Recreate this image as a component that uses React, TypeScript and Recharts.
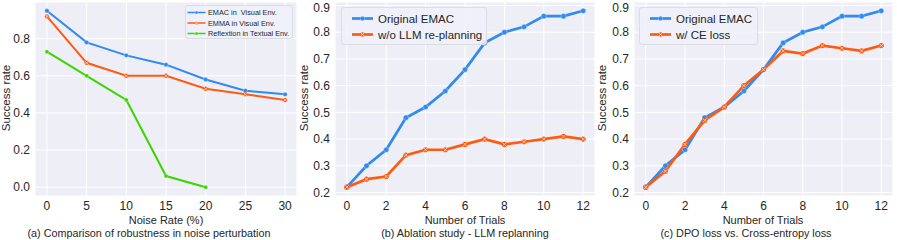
import { CartesianGrid, Line, LineChart, XAxis, YAxis } from "recharts";

const BLUE = "#2f8bf0";
const ORANGE = "#ff5b10";
const GREEN = "#3dd500";
const BG = "#eeeef7";
const INK = "#262626";
const FONT = '"Liberation Sans", Arial, Helvetica, sans-serif';

// (a) noise perturbation
const noiseRates = [0, 5, 10, 15, 20, 25, 30];
const emacNoise = [0.95, 0.78, 0.71, 0.66, 0.58, 0.52, 0.5];
const emmaNoise = [0.92, 0.67, 0.6, 0.6, 0.53, 0.5, 0.47];
const reflexionNoise = [0.73, 0.6, 0.47, 0.06, 0.0];

// (b) and (c) trials
const trials = [0, 1, 2, 3, 4, 5, 6, 7, 8, 9, 10, 11, 12];
const emacTrials = [0.22, 0.3, 0.36, 0.48, 0.52, 0.58, 0.66, 0.76, 0.8, 0.82, 0.86, 0.86, 0.88];
const noReplanTrials = [0.22, 0.25, 0.26, 0.34, 0.36, 0.36, 0.38, 0.4, 0.38, 0.39, 0.4, 0.41, 0.4];
const ceLossTrials = [0.22, 0.28, 0.38, 0.47, 0.52, 0.6, 0.66, 0.73, 0.72, 0.75, 0.74, 0.73, 0.75];

const noiseTicks = [0, 5, 10, 15, 20, 25, 30];
const noiseYTicks = [0, 0.2, 0.4, 0.6, 0.8];
const trialTicks = [0, 2, 4, 6, 8, 10, 12];
const trialYTicks = [0.2, 0.3, 0.4, 0.5, 0.6, 0.7, 0.8, 0.9];

const noiseData = noiseRates.map((x, i) => ({
  x,
  emac: emacNoise[i],
  emma: emmaNoise[i],
  reflexion: reflexionNoise[i] ?? null,
}));
const trialData = trials.map((x, i) => ({
  x,
  emac: emacTrials[i],
  noReplan: noReplanTrials[i],
  ce: ceLossTrials[i],
}));

type Marker = "o" | "x";

function drawMarker(kind: Marker, color: string, cx: number, cy: number, r: number, key?: any) {
  if (kind === "x") {
    const d = r * 0.7;
    return (
      <g key={key}>
        <circle cx={cx} cy={cy} r={r} fill={color} />
        <path
          d={`M${cx - d},${cy - d}L${cx + d},${cy + d}M${cx - d},${cy + d}L${cx + d},${cy - d}`}
          stroke="#fff"
          strokeWidth={0.8}
          opacity={0.8}
        />
      </g>
    );
  }
  return <circle key={key} cx={cx} cy={cy} r={r} fill={color} stroke="#fff" strokeWidth={0.3} />;
}

const dotFn = (kind: Marker, color: string, r: number) => (p: any) => {
  if (p.cy == null || p.value == null) return <g key={p.index} />;
  return drawMarker(kind, color, p.cx, p.cy, r, p.index);
};

const tickStyle = { fontSize: 12, fill: INK, fontFamily: FONT };

function LegendBox({
  left,
  top,
  width,
  height,
  rows,
  rowY,
  lineX,
  lineLen,
  textX,
  fontSize,
  lw,
  r,
}: {
  left: number;
  top: number;
  width: number;
  height: number;
  rows: { label: string; color: string; marker: Marker }[];
  rowY: number[];
  lineX: number;
  lineLen: number;
  textX: number;
  fontSize: number;
  lw: number;
  r: number;
}) {
  return (
    <div
      style={{
        position: "absolute",
        left,
        top,
        width,
        height,
        boxSizing: "border-box",
        background: "rgba(240,240,250,0.85)",
        border: "1px solid #dcdce4",
        borderRadius: 3,
      }}
    >
      <svg width={width} height={height} style={{ position: "absolute", left: -1, top: -1 }}>
        {rows.map((row, i) => (
          <g key={row.label}>
            <line x1={lineX} x2={lineX + lineLen} y1={rowY[i]} y2={rowY[i]} stroke={row.color} strokeWidth={lw} />
            {drawMarker(row.marker, row.color, lineX + lineLen / 2, rowY[i], r)}
            <text
              x={textX}
              y={rowY[i]}
              dy="0.35em"
              fontSize={fontSize}
              fill={INK}
              fontFamily={FONT}
              style={{ whiteSpace: "pre" }}
            >
              {row.label}
            </text>
          </g>
        ))}
      </svg>
    </div>
  );
}

function TextAt({
  x,
  y,
  children,
  size = 11,
  rotate = false,
}: {
  x: number;
  y: number;
  children: string;
  size?: number;
  rotate?: boolean;
}) {
  return (
    <div
      style={{
        position: "absolute",
        left: x,
        top: y,
        transform: `translate(-50%, -50%)${rotate ? " rotate(-90deg)" : ""}`,
        whiteSpace: "nowrap",
        fontSize: size,
        fontFamily: FONT,
        color: INK,
        lineHeight: 1,
      }}
    >
      {children}
    </div>
  );
}

function TrialChart({ left, yWidth, right, second, secondKey }: { left: number; yWidth: number; right: number; second: string; secondKey: string }) {
  return (
    <div style={{ position: "absolute", left, top: 0 }}>
      <LineChart width={297} height={240} data={trialData} margin={{ top: 2, right, left: 0, bottom: 0 }}>
        <CartesianGrid fill={BG} stroke="#fff" strokeWidth={1} />
        <XAxis
          dataKey="x"
          type="number"
          domain={[-0.6, 12.6]}
          ticks={trialTicks}
          allowDataOverflow
          axisLine={false}
          tickLine={false}
          tickSize={0}
          tickMargin={5}
          height={44}
          tick={tickStyle}
        />
        <YAxis
          type="number"
          domain={[0.187, 0.913]}
          ticks={trialYTicks}
          allowDataOverflow
          axisLine={false}
          tickLine={false}
          tickSize={0}
          tickMargin={5}
          width={yWidth}
          tick={tickStyle}
          tickFormatter={(v: number) => v.toFixed(1)}
        />
        <Line
          dataKey="emac"
          name="Original EMAC"
          stroke={BLUE}
          strokeWidth={2.7}
          dot={dotFn("o", BLUE, 2.6)}
          isAnimationActive={false}
        />
        <Line
          dataKey={secondKey}
          name={second}
          stroke={ORANGE}
          strokeWidth={2.7}
          dot={dotFn("x", ORANGE, 2.6)}
          isAnimationActive={false}
        />
      </LineChart>
    </div>
  );
}

export default function App() {
  return (
    <div style={{ position: "absolute", left: 0, top: 0, width: 897, height: 240, background: "#fff", overflow: "hidden" }}>
      <div style={{ position: "absolute", left: 0, top: 0 }}>
        <LineChart width={300} height={240} data={noiseData} margin={{ top: 2, right: 3, left: 0, bottom: 0 }}>
          <CartesianGrid fill={BG} stroke="#fff" strokeWidth={1} />
          <XAxis
            dataKey="x"
            type="number"
            domain={[-1.5, 31.5]}
            ticks={noiseTicks}
            allowDataOverflow
            axisLine={false}
            tickLine={false}
            tickSize={0}
            tickMargin={5}
            height={44}
            tick={tickStyle}
          />
          <YAxis
            type="number"
            domain={[-0.0475, 0.9975]}
            ticks={noiseYTicks}
            allowDataOverflow
            axisLine={false}
            tickLine={false}
            tickSize={0}
            tickMargin={5}
            width={35}
            tick={tickStyle}
            tickFormatter={(v: number) => v.toFixed(1)}
          />
          <Line dataKey="emac" name="EMAC in  Visual Env." stroke={BLUE} strokeWidth={2} dot={dotFn("o", BLUE, 2.2)} isAnimationActive={false} />
          <Line dataKey="emma" name="EMMA in Visual Env." stroke={ORANGE} strokeWidth={2} dot={dotFn("x", ORANGE, 2.2)} isAnimationActive={false} />
          <Line dataKey="reflexion" name="Reflextion in Textual Env." stroke={GREEN} strokeWidth={2} dot={dotFn("o", GREEN, 2.0)} isAnimationActive={false} />
        </LineChart>
      </div>
      <TrialChart left={300} yWidth={35} right={2} second="w/o LLM re-planning" secondKey="noReplan" />
      <TrialChart left={600} yWidth={34} right={4} second="w/ CE loss" secondKey="ce" />

      <LegendBox
        left={185}
        top={5}
        width={108}
        height={34}
        rows={[
          { label: "EMAC in  Visual Env.", color: BLUE, marker: "o" },
          { label: "EMMA in Visual Env.", color: ORANGE, marker: "x" },
          { label: "Reflextion in Textual Env.", color: GREEN, marker: "o" },
        ]}
        rowY={[7.5, 18, 28.5]}
        lineX={2.5}
        lineLen={18}
        textX={23}
        fontSize={7.3}
        lw={1.5}
        r={1.5}
      />
      <LegendBox
        left={341}
        top={7}
        width={146}
        height={38}
        rows={[
          { label: "Original EMAC", color: BLUE, marker: "o" },
          { label: "w/o LLM re-planning", color: ORANGE, marker: "x" },
        ]}
        rowY={[11.5, 27.5]}
        lineX={11}
        lineLen={21}
        textX={37}
        fontSize={11.5}
        lw={2.7}
        r={2.3}
      />
      <LegendBox
        left={639}
        top={7}
        width={119}
        height={38}
        rows={[
          { label: "Original EMAC", color: BLUE, marker: "o" },
          { label: "w/ CE loss", color: ORANGE, marker: "x" },
        ]}
        rowY={[11.5, 27.5]}
        lineX={11}
        lineLen={21}
        textX={37}
        fontSize={11.5}
        lw={2.7}
        r={2.3}
      />

      <TextAt x={7} y={98} size={11.5} rotate>Success rate</TextAt>
      <TextAt x={305} y={98} size={11.5} rotate>Success rate</TextAt>
      <TextAt x={603} y={98} size={11.5} rotate>Success rate</TextAt>

      <TextAt x={166} y={220}>Noise Rate (%)</TextAt>
      <TextAt x={465} y={220}>Number of Trials</TextAt>
      <TextAt x={763} y={220}>Number of Trials</TextAt>

      <TextAt x={149} y={233} size={10.8}>(a) Comparison of robustness in noise perturbation</TextAt>
      <TextAt x={465} y={233} size={10.8}>(b) Ablation study - LLM replanning</TextAt>
      <TextAt x={746} y={233} size={10.8}>(c) DPO loss vs. Cross-entropy loss</TextAt>
    </div>
  );
}
